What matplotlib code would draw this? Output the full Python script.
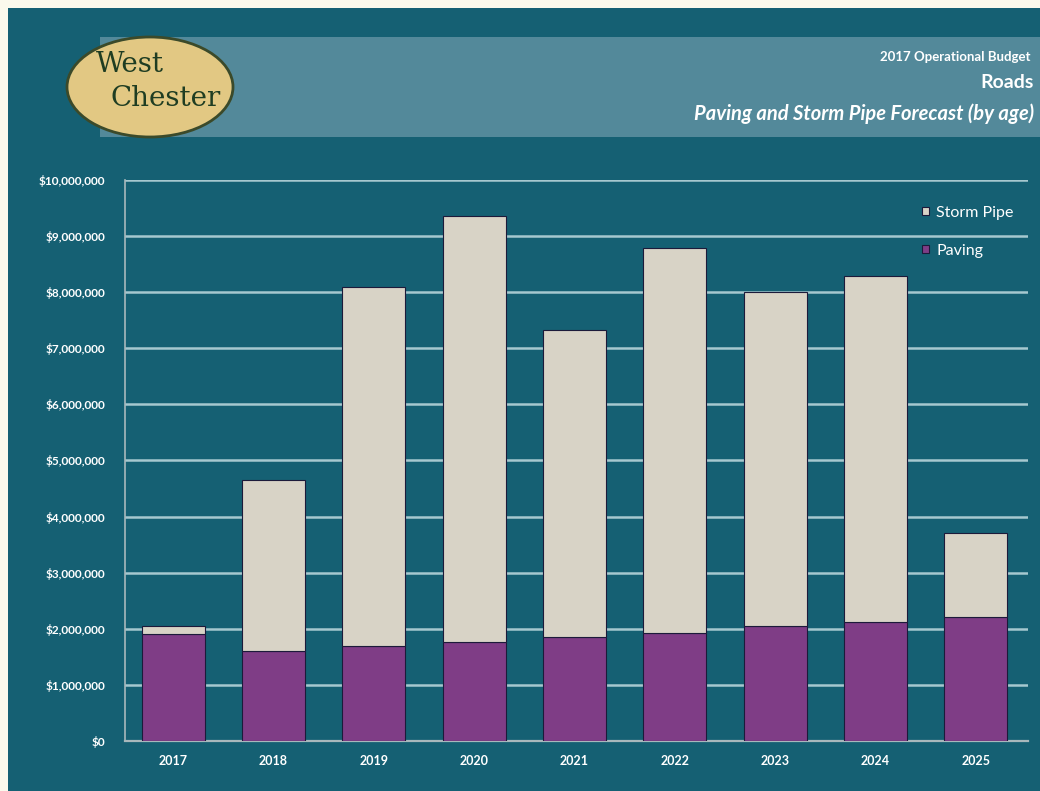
import matplotlib.pyplot as plt
import numpy as np
from matplotlib.patches import Ellipse, Rectangle
from matplotlib.ticker import FuncFormatter

years = ['2017', '2018', '2019', '2020', '2021', '2022', '2023', '2024', '2025']
paving = [1910000, 1600000, 1690000, 1760000, 1850000, 1930000, 2050000, 2120000, 2210000]
storm_pipe = [140000, 3050000, 6400000, 7600000, 5480000, 6860000, 5950000, 6170000, 1500000]
tick_values = np.arange(0, 10000001, 1000000)

teal = '#156073'
band = '#53899a'
cream = '#fbf9ec'
storm_color = '#d8d3c6'
paving_color = '#7f3d86'
grid_color = '#a6c8cf'
font = 'Lato'

W, H = 1040, 791
fig = plt.figure(figsize=(W / 100, H / 100), dpi=100)
fig.patch.set_facecolor(cream)

# page background and header band, in pixel units
bg = fig.add_axes([0, 0, 1, 1])
bg.set_xlim(0, W)
bg.set_ylim(H, 0)
bg.axis('off')
bg.add_patch(Rectangle((8, 8), W - 8, H - 8, facecolor=teal, edgecolor='none'))
bg.add_patch(Rectangle((100, 37), W - 100, 100, facecolor=band, edgecolor='none'))
bg.add_patch(Ellipse((150, 87), 166, 100, facecolor='#e2c883', edgecolor='#3b4a2a', linewidth=2))
bg.text(96, 64, 'West', fontsize=20, family='DejaVu Serif', color='#1f3d22', ha='left', va='center')
bg.text(110, 98, 'Chester', fontsize=20, family='DejaVu Serif', color='#1f3d22', ha='left', va='center')

bg.text(1031, 57, '2017 Operational Budget', fontsize=9.5, fontweight='bold',
        family=font, color='white', ha='right', va='center')
bg.text(1034, 83, 'Roads', fontsize=14, fontweight='bold',
        family=font, color='white', ha='right', va='center')
bg.text(1034, 114, 'Paving and Storm Pipe Forecast (by age)', fontsize=14.5, fontweight='bold',
        fontstyle='italic', family=font, color='white', ha='right', va='center')

# chart area
ax = fig.add_axes([125 / W, (H - 741) / H, 903 / W, (741 - 180) / H])
ax.set_facecolor('none')
x = np.arange(len(years))
ax.bar(x, paving, width=0.63, color=paving_color, edgecolor='#1c1a3a', linewidth=0.8,
       label='Paving', zorder=3)
ax.bar(x, storm_pipe, width=0.63, bottom=paving, color=storm_color, edgecolor='#1c1a3a',
       linewidth=0.8, label='Storm Pipe', zorder=3)

ax.set_xlim(-0.48, 8.52)
ax.set_ylim(0, 10000000)
ax.set_yticks(tick_values)
ax.yaxis.set_major_formatter(FuncFormatter(lambda v, p: f'${v:,.0f}'))
ax.set_xticks(x)
ax.set_xticklabels(years)
ax.grid(axis='y', color=grid_color, linewidth=1.8, zorder=1)
ax.tick_params(length=0, colors='white', labelsize=8.5, pad=14)
ax.tick_params(axis='x', labelsize=9, pad=10)
for lbl in ax.get_xticklabels() + ax.get_yticklabels():
    lbl.set_family(font)
    lbl.set_fontweight('bold')

for side in ['top', 'right']:
    ax.spines[side].set_visible(False)
ax.spines['left'].set_color('#a8b8bc')
ax.spines['bottom'].set_color('#a8b8bc')
ax.spines['left'].set_linewidth(1.2)
ax.spines['bottom'].set_linewidth(1.6)

handles, labels = ax.get_legend_handles_labels()
leg = ax.legend(handles[::-1], labels[::-1], loc='upper right', bbox_to_anchor=(1.0, 0.98),
                frameon=False, handlelength=0.45, handleheight=0.45, handletextpad=0.45,
                labelspacing=1.5, prop={'family': font, 'size': 11.5})
for t in leg.get_texts():
    t.set_color('white')

fig.savefig('out.png', dpi=100, facecolor=fig.get_facecolor())
